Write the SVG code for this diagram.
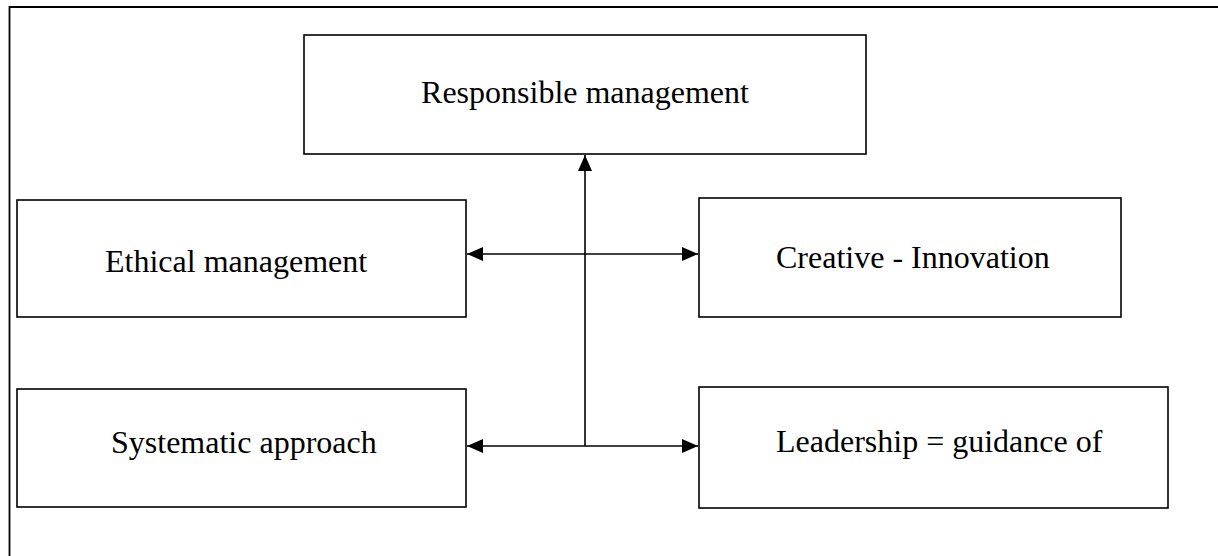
<svg xmlns="http://www.w3.org/2000/svg" width="1218" height="556" viewBox="0 0 1218 556">
  <style>
    .box { fill: #fff; stroke: #000; stroke-width: 1.6; }
    .label { font-family: "Liberation Serif", "Times New Roman", serif; font-size: 32px; fill: #000; }
    .conn { fill: none; stroke: #000; stroke-width: 1.6; }
  </style>
  <defs>
    <marker id="arrow" viewBox="0 0 16 14" refX="16" refY="7" markerWidth="16" markerHeight="14" markerUnits="userSpaceOnUse" orient="auto-start-reverse">
      <path d="M0,0 L16,7 L0,14 Z" fill="#000"/>
    </marker>
  </defs>
  <rect width="1218" height="556" fill="#fff"/>
  <!-- outer frame -->
  <path d="M9.5,570 L9.5,7 L1230,7" fill="none" stroke="#000" stroke-width="1.8"/>

  <g id="responsible">
    <rect class="box" x="304" y="35" width="562" height="119"/>
    <text class="label" x="585" y="103" text-anchor="middle">Responsible management</text>
  </g>
  <g id="ethical">
    <rect class="box" x="17" y="200" width="449" height="117"/>
    <text class="label" x="105" y="272">Ethical management</text>
  </g>
  <g id="creative">
    <rect class="box" x="699" y="198" width="422" height="119"/>
    <text class="label" x="776" y="268">Creative - Innovation</text>
  </g>
  <g id="systematic">
    <rect class="box" x="17" y="389" width="449" height="118"/>
    <text class="label" x="111" y="453">Systematic approach</text>
  </g>
  <g id="leadership">
    <rect class="box" x="699" y="387" width="469" height="121"/>
    <text class="label" x="776" y="452">Leadership = guidance of</text>
  </g>

  <g id="connectors">
    <line class="conn" x1="585" y1="446" x2="585" y2="155" marker-end="url(#arrow)"/>
    <line class="conn" x1="467" y1="254" x2="698" y2="254" marker-start="url(#arrow)" marker-end="url(#arrow)"/>
    <line class="conn" x1="467" y1="446" x2="698" y2="446" marker-start="url(#arrow)" marker-end="url(#arrow)"/>
  </g>
</svg>
